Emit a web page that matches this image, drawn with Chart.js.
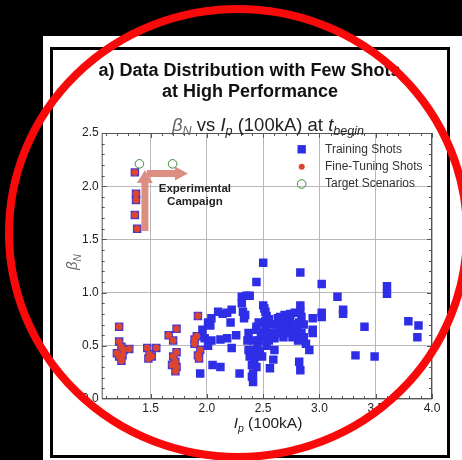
<!DOCTYPE html>
<html>
<head>
<meta charset="utf-8">
<script src="https://cdn.jsdelivr.net/npm/chart.js@4/dist/chart.umd.min.js"></script>
<style>html,body{margin:0;padding:0;background:#000}canvas{display:block}</style>
</head>
<body>
<canvas id="c" width="462" height="460"></canvas>
<script>
// Ip (100kA), betaN pairs
const trainingShots=[
  [1.94,0.24],[1.96,0.65],[2.03,0.69],[2.01,0.72],[2.04,0.76],[2.10,0.82],[2.14,0.80],[2.18,0.81],[2.22,0.84],
  [1.98,0.57],[2.04,0.55],[2.12,0.56],[2.18,0.57],[2.22,0.48],[2.01,0.50],[2.05,0.32],[2.12,0.30],[2.29,0.24],
  [2.21,0.72],[2.26,0.60],[2.31,0.96],[2.35,0.97],[2.31,0.90],[2.32,0.82],[2.33,0.76],[2.34,0.79],[2.37,0.62],
  [2.37,0.46],[2.38,0.40],[2.40,0.32],[2.41,0.24],[2.41,0.16],[2.40,0.21],[2.44,0.65],[2.46,0.55],[2.41,0.55],
  [2.41,0.46],[2.50,0.88],[2.52,0.82],[2.52,0.73],[2.44,0.68],[2.38,0.97],[2.49,0.40],[2.59,0.37],[2.56,0.29],
  [2.60,0.46],[2.60,0.60],[2.60,0.57],[2.65,0.77],[2.63,0.76],[2.69,0.79],[2.72,0.68],[2.66,0.65],[2.78,0.81],
  [2.80,0.68],[2.81,0.55],[2.83,0.88],[2.82,0.35],[2.83,0.27],[2.91,0.46],[2.94,0.76],[2.94,0.65],[2.94,0.62],
  [3.02,0.81],[3.02,0.77],[3.02,1.08],[3.16,0.96],[3.21,0.84],[3.21,0.80],[3.40,0.68],[3.32,0.41],[3.49,0.40],
  [3.60,1.06],[3.60,0.99],[3.79,0.73],[3.88,0.69],[3.87,0.58],[2.50,1.28],[2.83,1.19],[2.44,1.10],
  [2.66,0.72],[2.70,0.70],[2.74,0.74],[2.76,0.70],[2.78,0.66],[2.82,0.72],[2.84,0.77],[2.86,0.70],[2.84,0.62],
  [2.80,0.60],[2.76,0.58],[2.72,0.62],[2.68,0.58],[2.86,0.58],[2.88,0.52],[2.83,0.82],[2.70,0.76],[2.74,0.80],
  [2.62,0.70],[2.64,0.62],[2.46,0.72],[2.48,0.62],[2.50,0.58],[2.52,0.66],[2.55,0.55],[2.45,0.48],[2.43,0.40],
  [2.44,0.30],[2.42,0.35],[2.47,0.45],[2.36,0.55],[2.55,0.75],[2.58,0.70],[2.57,0.62],[2.53,0.50],[2.51,0.85],
  [2.53,0.78]
]
const fineTuningShots=[
  [1.22,0.68],[1.22,0.54],[1.24,0.49],[1.26,0.46],[1.31,0.47],[1.20,0.43],[1.22,0.40],[1.25,0.41],[1.24,0.36],
  [1.47,0.48],[1.55,0.48],[1.49,0.42],[1.48,0.38],[1.51,0.40],
  [1.73,0.66],[1.66,0.60],[1.70,0.55],[1.73,0.44],[1.70,0.40],[1.72,0.35],[1.69,0.32],[1.73,0.30],[1.72,0.26],
  [1.92,0.78],[1.91,0.59],[1.89,0.56],[1.89,0.52],[1.94,0.46],[1.92,0.41],[1.93,0.38],
  [1.36,2.13],[1.37,1.93],[1.37,1.87],[1.36,1.73],[1.38,1.60]
]
const targetScenarios=[[1.40,2.21],[1.695,2.21]]
const seriesNames=["Training Shots","Fine-Tuning Shots","Target Scenarios"]
const xTicks=[1.5,2.0,2.5,3.0,3.5,4.0]
const yTicks=[0,0.5,1.0,1.5,2.0,2.5]

const BLUE="#2e2ee6",RED="#dc4530",GREEN="#3c8c3c"
const FAM='"Liberation Sans", Arial, sans-serif'
const pts=a=>a.map(p=>({x:p[0],y:p[1]}))

function rich(g,parts,cx,y,size){
  const f=p=>(p[1]?"italic ":"")+(p[2]?size*0.68:size)+"px "+FAM
  let w=0
  parts.forEach(p=>{g.font=f(p);w+=g.measureText(p[0]).width})
  let x=cx-w/2
  g.textAlign="left";g.textBaseline="alphabetic"
  parts.forEach(p=>{
    g.font=f(p);g.fillStyle=p[3]||"#222"
    g.fillText(p[0],x,y+(p[2]?size*0.27:0))
    x+=g.measureText(p[0]).width
  })
}

const deco={
  id:"deco",
  beforeDraw(c){
    const g=c.ctx
    g.save()
    g.fillStyle="#000";g.fillRect(0,0,462,460)
    g.fillStyle="#fff";g.fillRect(43,36,419,424)
    g.fillStyle="#000"
    g.fillRect(50,47,400,3)
    g.fillRect(50,47,3,411)
    g.fillRect(447,47,3,411)
    g.fillRect(50,455,400,3)
    g.restore()
  },
  afterDraw(c){
    const g=c.ctx,a=c.chartArea,X=c.scales.x,Y=c.scales.y
    const px=v=>X.getPixelForValue(v),py=v=>Y.getPixelForValue(v)
    g.save()
    // frame + minor ticks
    g.strokeStyle="#555";g.lineWidth=1
    g.strokeRect(a.left+0.5,a.top+0.5,a.right-a.left-1,a.bottom-a.top-1)
    g.beginPath()
    for(let i=11;i<=40;i++){
      const x=Math.round(px(i/10))+0.5,l=i%5?3:5
      g.moveTo(x,a.bottom);g.lineTo(x,a.bottom-l)
      g.moveTo(x,a.top);g.lineTo(x,a.top+l)
    }
    for(let i=1;i<25;i++){
      const y=Math.round(py(i/10))+0.5,l=i%5?3:5
      g.moveTo(a.left,y);g.lineTo(a.left+l,y)
      g.moveTo(a.right,y);g.lineTo(a.right-l,y)
    }
    g.stroke()

    // experimental campaign arrows
    g.fillStyle="#dc8f80"
    let cx=px(1.449),b=py(1.58),hb=py(2.03),tp=py(2.15)
    g.beginPath()
    g.moveTo(cx-3.5,b);g.lineTo(cx-3.5,hb);g.lineTo(cx-8,hb);g.lineTo(cx,tp)
    g.lineTo(cx+8,hb);g.lineTo(cx+3.5,hb);g.lineTo(cx+3.5,b);g.closePath();g.fill()
    let cy=py(2.12),l=px(1.467),hx=px(1.716),tx=px(1.831)
    g.beginPath()
    g.moveTo(l,cy-3.5);g.lineTo(hx,cy-3.5);g.lineTo(hx,cy-7);g.lineTo(tx,cy)
    g.lineTo(hx,cy+7);g.lineTo(hx,cy+3.5);g.lineTo(l,cy+3.5);g.closePath();g.fill()
    g.fillStyle="#222";g.font="bold 11.5px "+FAM;g.textAlign="center";g.textBaseline="alphabetic"
    g.fillText("Experimental",px(1.893),py(1.945))
    g.fillText("Campaign",px(1.893),py(1.828))

    // legend
    const lx=a.right-130.3
    g.fillStyle=BLUE;g.fillRect(lx-4.2,a.top+16.3-4.2,8.4,8.4)
    g.fillStyle=RED;g.beginPath();g.arc(lx,a.top+33.7,3,0,7);g.fill()
    g.strokeStyle=GREEN;g.beginPath();g.arc(lx,a.top+51,4.3,0,7);g.stroke()
    g.fillStyle="#333";g.font="12px "+FAM;g.textAlign="left";g.textBaseline="middle"
    seriesNames.forEach((n,i)=>g.fillText(n,lx+23.3,a.top+16.3+i*17.35))

    // titles
    g.fillStyle="#111";g.font="bold 18px "+FAM;g.textAlign="center";g.textBaseline="alphabetic"
    g.fillText("a) Data Distribution with Few Shots",249.5,75.5)
    g.fillText("at High Performance",250,96.5)
    rich(g,[["β",1,0,"#666"],["N",1,1,"#666"],[" vs "],["I",1],["p",1,1],[" (100kA) at "],["t",1],["begin",1,1]],268,130.5,18.5)
    rich(g,[["I",1],["p",1,1],[" (100kA)"]],268,428,15.5)
    g.translate(77,262);g.rotate(-Math.PI/2)
    rich(g,[["β",1,0,"#666"],["N",1,1,"#666"]],0,0,15)
    g.setTransform(1,0,0,1,0,0)

    // red annotation ring
    g.strokeStyle="#f80a0a";g.lineWidth=8
    g.beginPath();g.ellipse(238,233,229,224,0,0,Math.PI*2);g.stroke()
    g.restore()
  }
}

new Chart(document.getElementById("c"),{
  type:"scatter",
  data:{datasets:[
    {label:seriesNames[1],data:pts(fineTuningShots),pointStyle:"circle",pointRadius:3.4,backgroundColor:RED,borderWidth:0},
    {label:seriesNames[2],data:pts(targetScenarios),pointStyle:"circle",pointRadius:4.3,backgroundColor:"rgba(0,0,0,0)",borderColor:GREEN,borderWidth:1},
    {label:seriesNames[0],data:pts(trainingShots),pointStyle:"rect",pointRadius:6,backgroundColor:BLUE,borderWidth:0},
    {label:"",data:pts(fineTuningShots),pointStyle:"rect",pointRadius:6,backgroundColor:"#4636d4",borderWidth:0}
  ]},
  options:{
    responsive:false,animation:false,
    layout:{padding:{left:60,top:133,right:30,bottom:0}},
    plugins:{legend:{display:false},tooltip:{enabled:false}},
    scales:{
      x:{type:"linear",min:1.065,max:4.0,
        afterBuildTicks:s=>{s.ticks=xTicks.map(v=>({value:v}))},
        afterFit:s=>{s.height=61},
        grid:{color:"#b8b8b8",drawTicks:false},border:{display:false},
        ticks:{padding:2,color:"#222",font:{family:FAM,size:12},maxRotation:0,autoSkip:false,callback:v=>v.toFixed(1)}},
      y:{type:"linear",min:0,max:2.5,
        afterBuildTicks:s=>{s.ticks=yTicks.map(v=>({value:v}))},
        afterFit:s=>{s.width=41.7},
        grid:{color:"#b8b8b8",drawTicks:false},border:{display:false},
        ticks:{padding:3,color:"#222",font:{family:FAM,size:12},callback:v=>v.toFixed(1)}}
    }
  },
  plugins:[deco]
})
</script>
</body>
</html>
